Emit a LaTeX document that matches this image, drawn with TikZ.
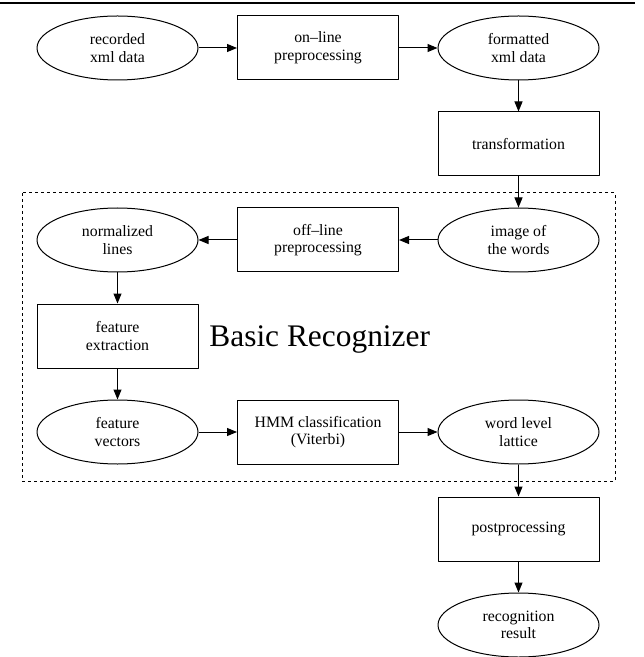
\documentclass[tikz,border=0pt]{standalone}
\usepackage{fontspec}
\setmainfont{Liberation Serif}
\usetikzlibrary{shapes.geometric,arrows.meta}
\begin{document}
\begin{tikzpicture}[x=0.5pt, y=-0.5pt, line join=round, >={Stealth[length=5pt,width=4pt,inset=0pt]}]
	\tikzset{box/.style={draw, line width=0.5pt, rectangle, minimum width=80.5pt, minimum height=32pt,
			inner sep=0pt, align=center, font=\fontsize{7.9}{8.8}\selectfont},
		oval/.style={box, ellipse},
		flow/.style={->, line width=0.5pt}
	}
	\useasboundingbox (0,0) rectangle (643,657);
	\draw[line width=1pt] (0,3.5)--(635,3.5);
	\draw[dashed, dash pattern=on 1.5pt off 1.5pt, line width=0.5pt] (22,193) rectangle (615,481);
	\node[oval] (rec) at (117.5,48) {recorded\\xml data};
	\node[box] (onl) at (318,48) {on--line\\preprocessing};
	\node[oval] (fmt) at (518.5,48) {formatted\\xml data};
	\node[box] (trf) at (518.5,144) {transformation};
	\node[oval] (img) at (518.5,240) {image of\\the words};
	\node[box] (ofl) at (318,240) {off--line\\preprocessing};
	\node[oval] (nrm) at (117.5,240) {normalized\\lines};
	\node[box] (fex) at (117.5,336) {feature\\extraction};
	\node[oval] (fvc) at (117.5,432) {feature\\vectors};
	\node[box] (hmm) at (318,432) {HMM classification\\(Viterbi)};
	\node[oval] (lat) at (518.5,432) {word level\\lattice};
	\node[box] (pst) at (518.5,529) {postprocessing};
	\node[oval] (res) at (518.5,625) {recognition\\result};
	\node[anchor=base west, inner sep=0pt, font=\fontsize{15.7}{18}\selectfont] (ttl) at (209,346) {Basic Recognizer};
	\draw[flow] (rec)--(onl);
	\draw[flow] (onl)--(fmt);
	\draw[flow] (fmt)--(trf);
	\draw[flow] (trf)--(img);
	\draw[flow] (img)--(ofl);
	\draw[flow] (ofl)--(nrm);
	\draw[flow] (nrm)--(fex);
	\draw[flow] (fex)--(fvc);
	\draw[flow] (fvc)--(hmm);
	\draw[flow] (hmm)--(lat);
	\draw[flow] (lat)--(pst);
	\draw[flow] (pst)--(res);
\end{tikzpicture}
\end{document}
